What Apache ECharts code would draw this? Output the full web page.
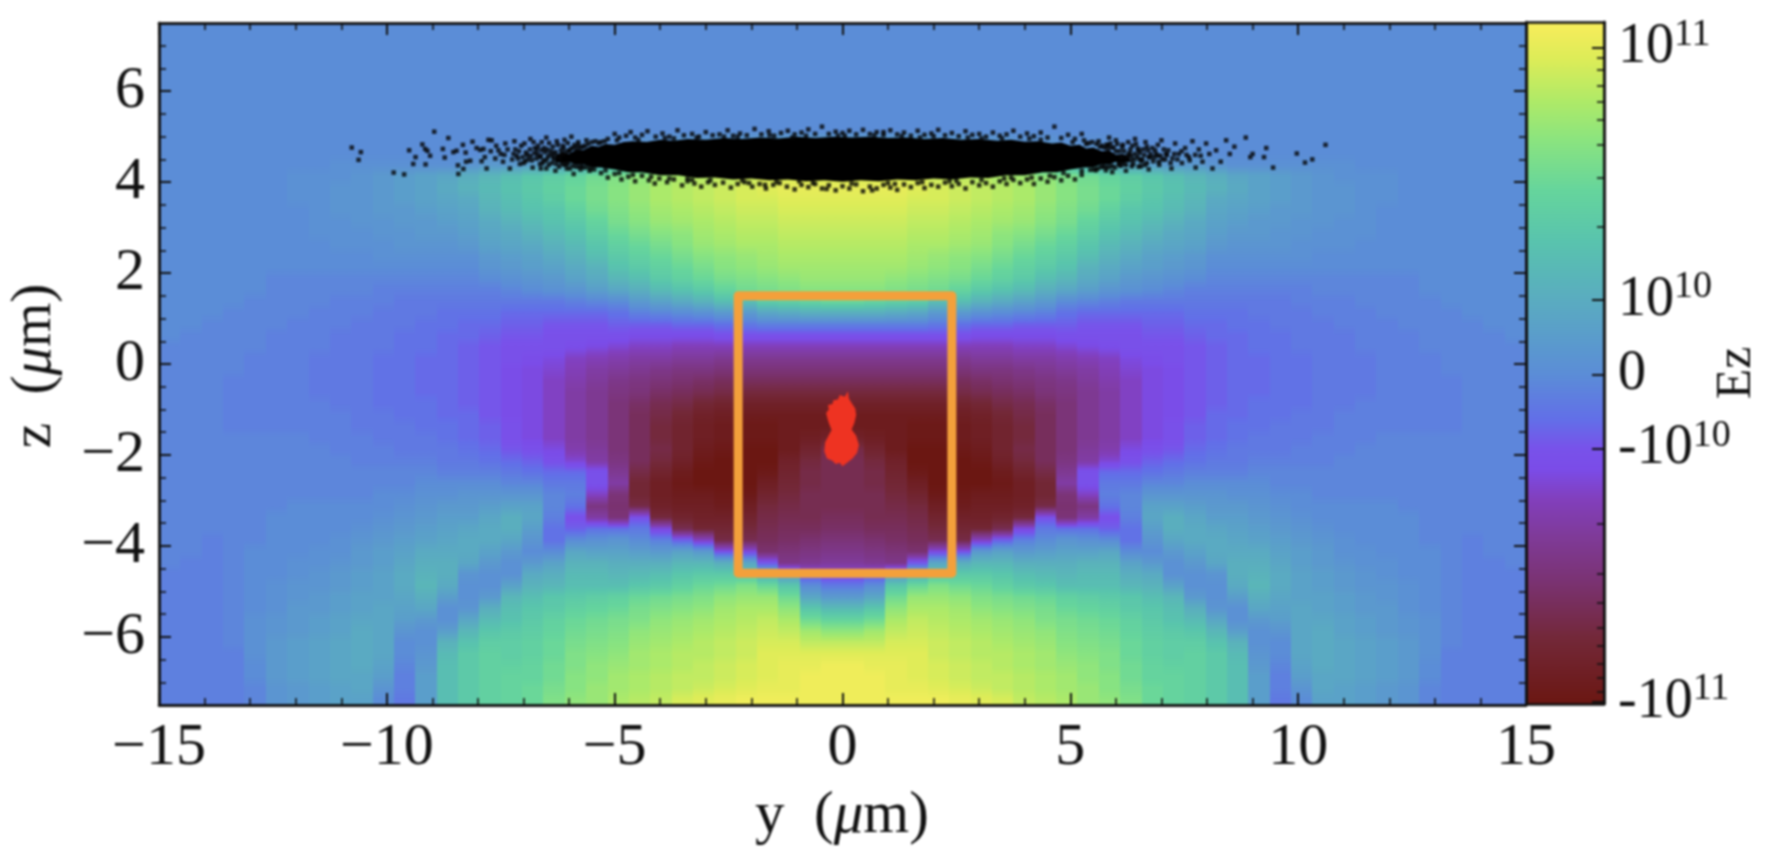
<!DOCTYPE html>
<html><head><meta charset="utf-8">
<style>html,body{margin:0;padding:0;background:#fff}#chart{width:1792px;height:850px;filter:blur(0.8px)}</style>
<script src="https://cdn.jsdelivr.net/npm/echarts@6/dist/echarts.min.js"></script>
</head><body><div id="chart"></div>
<script>
// Field levels: one array per column, |y| growing from the centre. Rows run z = 7.375 down to -7.375 in 0.25 steps.
// A level is the height on the colour bar (10 px units): 0 = 0, ±7.4 = ±10^10, ±32.8 = ±10^11.
const col00=[0,0,0,0,0,0,0,0,0,0,5,14,24,31,33,32,31,30,29,28,27,26,25,23,19,8,-2,-8,-13,-17,-20,-23,-26,-29,-31,-31,-29,-25,-24,-24,-24,-24,-24,-23,-22,-20,-18,-16,-10,-3,3,11,18,24,29,32,34,34,34,34];
const col01=[0,0,0,0,0,0,0,0,0,0,5,14,24,31,33,32,31,30,29,28,27,26,25,23,18,8,-2,-8,-13,-17,-20,-23,-26,-29,-31,-31,-30,-28,-26,-25,-25,-24,-24,-24,-23,-21,-19,-17,-8,0,6,14,20,26,29,32,33,34,34,34];
const col02=[0,0,0,0,0,0,0,0,0,0,5,13,23,31,33,32,31,30,29,28,27,26,24,22,17,7,-2,-8,-13,-17,-20,-23,-26,-29,-31,-31,-31,-31,-29,-28,-27,-26,-25,-24,-23,-22,-20,-18,2,14,20,24,27,29,31,32,33,33,33,34];
const col03=[0,0,0,0,0,0,0,0,0,0,5,12,22,31,32,31,30,29,28,27,26,25,23,21,16,6,-2,-8,-13,-17,-20,-23,-26,-29,-31,-32,-32,-33,-33,-32,-30,-28,-26,-25,-24,-23,-21,-7,8,19,25,27,29,30,31,32,32,32,33,34];
const col04=[0,0,0,0,0,0,0,0,0,0,4,10,20,30,31,31,30,29,28,27,25,24,22,20,12,3,-3,-8,-13,-17,-20,-23,-26,-29,-31,-32,-32,-33,-33,-33,-33,-32,-30,-28,-26,-24,-10,6,14,22,25,27,28,29,30,30,31,31,32,34];
const col05=[0,0,0,0,0,0,0,0,0,0,4,10,20,29,30,30,29,28,27,26,24,23,21,18,12,3,-4,-8,-13,-17,-20,-23,-25,-28,-30,-31,-31,-32,-33,-33,-33,-32,-31,-29,-27,-25,-8,8,15,20,24,26,27,28,29,29,30,30,31,33];
const col06=[0,0,0,0,0,0,0,0,0,0,3,8,18,28,29,29,28,27,26,25,23,21,19,15,9,1,-5,-9,-13,-16,-19,-22,-24,-27,-29,-30,-30,-31,-32,-33,-33,-31,-30,-29,-27,-12,3,10,15,19,22,24,26,27,28,28,29,29,30,32];
const col07=[0,0,0,0,0,0,0,0,0,0,3,8,16,27,28,28,27,26,24,23,21,19,17,13,7,0,-5,-9,-13,-16,-19,-21,-23,-25,-27,-28,-28,-28,-29,-31,-32,-31,-30,-28,-24,-6,5,10,14,17,21,23,25,26,27,28,28,29,29,31];
const col08=[0,0,0,0,0,0,0,0,0,0,2,6,14,26,27,27,26,25,23,21,19,17,15,11,5,-1,-6,-9,-12,-15,-18,-20,-22,-24,-25,-26,-26,-25,-26,-28,-30,-30,-29,-26,-10,-2,3,8,12,15,20,22,24,25,26,27,27,28,28,29];
const col09=[0,0,0,0,0,0,0,0,0,0,2,5,12,24,25,25,24,23,21,19,17,15,12,8,3,-2,-6,-9,-12,-15,-17,-19,-20,-22,-23,-23,-23,-23,-23,-25,-27,-27,-25,-8,-3,0,4,8,11,14,19,21,22,24,25,26,26,27,27,28];
const col10=[0,0,0,0,0,0,0,0,0,0,1,4,10,22,23,23,22,21,19,17,15,13,10,6,0,-4,-6,-8,-11,-14,-16,-18,-19,-20,-20,-20,-20,-20,-19,-17,-15,-20,-21,-20,-4,2,5,8,10,12,17,19,21,22,23,24,25,26,26,27];
const col11=[0,0,0,0,0,0,0,0,0,0,1,3,8,20,21,21,20,18,16,14,12,9,7,4,-1,-5,-7,-8,-10,-13,-15,-16,-17,-17,-17,-17,-17,-16,-15,-8,-8,-12,-19,-15,-4,1,5,9,11,12,16,18,20,21,22,23,24,24,25,25];
const col12=[0,0,0,0,0,0,0,0,0,0,1,2,6,18,19,19,17,15,13,11,9,7,5,2,-2,-5,-7,-8,-9,-12,-13,-14,-15,-15,-15,-15,-15,-14,-11,-5,-3,-2,-4,-8,-6,0,6,9,11,12,15,17,19,20,21,22,22,23,23,24];
const col13=[0,0,0,0,0,0,0,0,0,0,0,2,5,16,17,16,14,13,11,9,7,5,3,1,-3,-5,-7,-8,-8,-10,-11,-12,-12,-12,-12,-12,-12,-10,-8,-5,-3,-1,-1,-2,-4,-4,0,5,8,10,14,15,17,18,19,19,20,20,21,22];
const col14=[0,0,0,0,0,0,0,0,0,0,0,1,4,14,15,14,13,11,9,7,5,4,2,0,-3,-5,-6,-7,-8,-9,-10,-10,-10,-10,-10,-10,-10,-8,-6,-4,-1,2,5,6,4,2,0,3,7,9,12,14,15,16,17,17,18,18,19,19];
const col15=[0,0,0,0,0,0,0,0,0,0,0,1,3,12,13,12,11,9,7,6,4,3,1,-1,-3,-5,-6,-7,-8,-8,-9,-9,-9,-9,-9,-8,-8,-7,-5,-3,-1,2,5,8,8,6,3,1,1,5,10,12,13,15,16,16,17,18,18,18];
const col16=[0,0,0,0,0,0,0,0,0,0,0,1,3,10,11,10,9,7,6,5,3,2,0,-2,-3,-4,-5,-6,-7,-7,-7,-7,-7,-7,-7,-6,-6,-5,-4,-2,0,2,4,6,7,7,5,3,1,1,3,8,11,14,16,17,17,17,17,17];
const col17=[0,0,0,0,0,0,0,0,0,0,0,0,2,8,9,7,6,5,4,3,1,0,-1,-2,-3,-4,-5,-5,-6,-6,-6,-6,-6,-6,-5,-5,-5,-4,-3,-2,0,2,3,4,6,7,7,6,2,1,1,2,6,10,13,15,15,15,15,15];
const col18=[0,0,0,0,0,0,0,0,0,0,0,0,1,6,7,6,5,4,3,2,1,0,-1,-2,-3,-4,-4,-5,-5,-5,-5,-5,-5,-5,-5,-4,-4,-3,-3,-2,0,1,3,4,5,6,7,8,8,7,4,1,1,4,9,11,12,12,12,12];
const col19=[0,0,0,0,0,0,0,0,0,0,0,0,1,5,5,5,4,3,3,2,1,0,-1,-2,-3,-3,-4,-4,-4,-5,-5,-5,-5,-4,-4,-4,-3,-3,-2,-1,0,1,2,3,4,5,7,8,9,10,8,6,3,1,1,2,3,4,4,4];
const col20=[0,0,0,0,0,0,0,0,0,0,0,0,1,4,4,4,3,3,2,2,1,0,-1,-2,-3,-3,-3,-4,-4,-4,-4,-4,-4,-4,-4,-3,-3,-3,-2,-1,-1,0,1,2,3,4,5,6,7,7,6,5,4,2,0,0,-1,-2,-2,-3];
const col21=[0,0,0,0,0,0,0,0,0,0,0,0,1,3,3,3,3,2,2,1,1,0,-1,-2,-2,-3,-3,-3,-3,-4,-4,-4,-4,-4,-3,-3,-3,-2,-2,-1,-1,0,0,1,2,3,4,4,5,5,5,6,6,6,6,6,5,4,2,0];
const col22=[0,0,0,0,0,0,0,0,0,0,0,0,1,2,2,2,2,2,1,1,0,0,-1,-1,-2,-2,-3,-3,-3,-3,-3,-3,-3,-3,-3,-3,-2,-2,-2,-1,-1,-1,0,0,1,2,3,3,4,4,5,5,6,7,7,7,7,6,6,5];
const col23=[0,0,0,0,0,0,0,0,0,0,0,0,1,1,2,2,2,1,1,1,0,0,-1,-1,-2,-2,-2,-3,-3,-3,-3,-3,-3,-3,-2,-2,-2,-2,-1,-1,-1,-1,0,0,0,1,1,2,3,3,4,4,5,5,6,6,6,6,5,5];
const col24=[0,0,0,0,0,0,0,0,0,0,0,0,0,1,1,1,1,1,1,0,0,0,-1,-1,-1,-2,-2,-2,-2,-3,-3,-3,-3,-2,-2,-2,-2,-1,-1,-1,-1,-1,0,0,0,0,1,1,2,2,3,3,4,4,5,5,5,5,4,4];
const col25=[0,0,0,0,0,0,0,0,0,0,0,0,0,1,1,1,0,0,0,0,0,0,-1,-1,-1,-1,-2,-2,-2,-2,-2,-2,-2,-2,-2,-2,-1,-1,-1,-1,-1,-1,0,0,0,0,0,1,1,2,2,3,3,3,4,4,4,4,3,3];
const col26=[0,0,0,0,0,0,0,0,0,0,0,0,0,0,0,0,0,0,0,0,0,0,-1,-1,-1,-1,-1,-2,-2,-2,-2,-2,-2,-2,-2,-2,-1,-1,-1,-1,-1,-1,-1,0,0,0,0,0,0,1,1,1,2,2,3,3,3,3,2,2];
const col27=[0,0,0,0,0,0,0,0,0,0,0,0,0,0,0,0,0,0,0,0,0,0,0,0,-1,-1,-1,-1,-1,-2,-2,-2,-2,-2,-2,-2,-1,-1,-1,-1,-1,-1,-1,-1,-1,-1,0,0,0,0,0,0,1,1,1,1,0,0,-1,-1];
const col28=[0,0,0,0,0,0,0,0,0,0,0,0,0,0,0,0,0,0,0,0,0,0,0,0,0,-1,-1,-1,-1,-1,-1,-2,-2,-2,-2,-2,-1,-1,-1,-1,-1,-1,-1,-1,-1,-1,-1,-1,-1,-1,-1,-1,-1,-1,-1,-2,-2,-2,-2,-2];
const col29=[0,0,0,0,0,0,0,0,0,0,0,0,0,0,0,0,0,0,0,0,0,0,0,0,0,0,-1,-1,-1,-1,-1,-1,-1,-1,-1,-1,-1,-1,-1,-1,-1,-1,-1,-1,-1,-2,-2,-2,-2,-2,-2,-2,-2,-2,-2,-2,-2,-2,-2,-2];
const col30=[0,0,0,0,0,0,0,0,0,0,0,0,0,0,0,0,0,0,0,0,0,0,0,0,0,0,0,-1,-1,-1,-1,-1,-1,-1,-1,-1,-1,-1,-1,-1,-1,-1,-1,-1,-1,-1,-1,-2,-2,-2,-2,-2,-2,-2,-2,-2,-2,-2,-2,-2];
const col31=[0,0,0,0,0,0,0,0,0,0,0,0,0,0,0,0,0,0,0,0,0,0,0,0,0,0,0,0,-1,-1,-1,-1,-1,-1,-1,-1,-1,-1,-1,-1,-1,-1,-1,-1,-1,-1,-1,-1,-2,-2,-2,-2,-2,-2,-2,-2,-2,-2,-2,-2];

// Black electron sheet: dense core outline and the individually visible particles.
const sheetTop=[[-6.3,4.58],[-6.15,4.66],[-6,4.62],[-5.85,4.72],[-5.7,4.7],[-5.5,4.8],[-5.35,4.78],[-5.2,4.84],[-5,4.82],[-4.8,4.88],[-4.6,4.9],[-4.3,4.88],[-4,4.93],[-3.7,4.91],[-3.4,4.95],[-3,4.93],[-2.6,4.97],[-2.2,4.95],[-1.8,4.98],[-1.4,4.96],[-1,5],[-0.6,4.97],[-0.2,5],[0.2,4.98],[0.6,5],[1,4.97],[1.4,4.98],[1.8,4.95],[2.2,4.97],[2.6,4.93],[3,4.95],[3.4,4.91],[3.7,4.93],[4,4.89],[4.3,4.9],[4.6,4.85],[4.8,4.87],[5,4.8],[5.2,4.82],[5.35,4.74],[5.5,4.76],[5.7,4.68],[5.85,4.7],[6,4.6],[6.15,4.62],[6.3,4.55]];
const sheetBottom=[[6.3,4.45],[6.15,4.42],[6,4.45],[5.85,4.38],[5.7,4.4],[5.5,4.33],[5.3,4.32],[5,4.28],[4.7,4.22],[4.4,4.22],[4,4.15],[3.6,4.15],[3.2,4.09],[2.8,4.1],[2.4,4.06],[2,4.08],[1.6,4.04],[1.2,4.06],[0.8,4.02],[0.4,4.04],[0,4.01],[-0.4,4.04],[-0.8,4.02],[-1.2,4.06],[-1.6,4.04],[-2,4.08],[-2.4,4.06],[-2.8,4.1],[-3.2,4.09],[-3.6,4.15],[-4,4.15],[-4.4,4.22],[-4.7,4.22],[-5,4.28],[-5.3,4.32],[-5.5,4.33],[-5.7,4.4],[-5.85,4.38],[-6,4.45],[-6.15,4.42],[-6.3,4.45]];
const tailLeft=[[-10.77,4.76],[-10.57,4.66],[-10.62,4.49],[-9.85,4.21],[-9.62,4.17],[-9.51,4.7],[-9.42,4.4],[-9.37,4.55],[-9.22,4.83],[-9.16,4.73],[-9.11,4.69],[-9.15,4.39],[-9.05,4.58],[-8.96,5.11],[-8.77,4.73],[-8.73,4.54],[-8.65,4.97],[-8.54,4.66],[-8.47,4.69],[-8.44,4.37],[-8.43,4.18],[-8.33,4.82],[-8.32,4.29],[-8.27,4.65],[-8.26,4.45],[-8.17,4.47],[-8.12,4.89],[-8.03,4.75],[-7.95,4.71],[-7.92,4.46],[-7.88,4.73],[-7.81,4.3],[-7.77,4.93],[-7.7,4.92],[-7.6,4.8],[-7.5,4.62],[-7.45,4.45],[-7.35,4.72],[-7.3,4.3],[-7.2,4.9],[-7.15,4.58],[-7.05,4.8],[-7,4.42],[-6.95,4.65],[-6.85,4.95],[-6.8,4.32],[-6.75,4.75],[-6.65,4.55],[-6.6,4.88],[-6.5,4.98],[-6.45,4.38],[-6.4,4.68],[-6.3,4.25],[-6.25,4.82],[-6.2,4.52],[-6.1,4.93],[-6.05,4.3],[-6,4.7],[-5.95,5],[-5.9,4.18],[-5.8,4.88],[-5.75,4.28],[-7.55,4.7],[-7.25,4.5],[-7.1,4.68],[-6.9,4.5],[-6.7,4.62],[-6.55,4.75],[-6.35,4.55],[-6.15,4.62],[-7.4,4.85],[-6.78,4.88],[-6.58,4.42],[-6.28,4.4],[-6.62,4.3],[-6.98,4.85],[-6.12,4.75],[-6.02,4.42]];
const tailRight=[[10.6,4.82],[9.97,4.63],[10.15,4.43],[10.31,4.5],[9.45,4.32],[9.3,4.75],[9.25,4.55],[9,4.62],[8.85,4.98],[8.95,4.55],[8.6,4.78],[8.5,4.62],[8.42,4.92],[8.3,4.45],[8.2,4.7],[8.12,4.3],[8.05,4.62],[7.98,4.85],[7.9,4.45],[7.82,4.72],[7.75,4.32],[7.68,4.9],[7.6,4.55],[7.52,4.75],[7.45,4.42],[7.38,4.62],[7.3,4.85],[7.22,4.3],[7.15,4.7],[7.08,4.5],[7,4.92],[6.95,4.38],[6.88,4.62],[6.8,4.75],[6.72,4.28],[6.65,4.88],[6.58,4.5],[6.5,4.7],[6.42,4.95],[6.35,4.35],[6.28,4.6],[6.22,4.25],[6.15,4.82],[6.08,4.4],[6,4.92],[5.92,4.22],[5.85,4.98],[5.78,4.26],[7.55,4.6],[7.35,4.5],[7.05,4.72],[6.75,4.55],[6.55,4.35],[6.32,4.72],[6.12,4.55],[6.92,4.82],[7.28,4.62],[6.98,4.58],[6.68,4.42],[6.4,4.5],[5.82,4.82]];
const denseLeft=[[-5.35,4.86],[-5.42,4.9],[-5.45,4.28],[-5.5,4.88],[-5.52,4.3],[-5.55,4.25],[-5.58,4.84],[-5.6,4.33],[-5.62,4.92],[-5.65,4.8],[-5.68,4.32],[-5.7,4.78],[-5.72,4.36],[-5.75,4.76],[-5.78,4.34],[-5.8,4.82],[-5.82,4.74],[-5.85,4.34],[-5.88,4.82],[-5.9,4.76],[-5.92,4.36],[-5.95,4.74],[-5.98,4.3],[-6,4.68],[-6.03,4.86],[-6.06,4.4],[-6.08,4.66],[-6.1,4.38],[-6.14,4.8],[-6.16,4.4],[-6.18,4.7],[-6.22,4.34],[-6.24,4.58],[-6.27,4.9],[-6.3,4.66],[-6.33,4.5],[-6.36,4.78],[-6.38,4.42],[-6.42,4.6],[-6.44,4.86],[-6.47,4.55],[-6.5,4.3],[-6.52,4.66],[-6.56,4.48],[-6.6,4.7],[-6.64,4.4],[-6.68,4.8],[-6.72,4.52],[-6.76,4.64],[-6.82,4.48],[-6.86,4.72],[-6.92,4.6],[-7.02,4.55],[-7.08,4.4],[-7.18,4.72],[-6.34,4.62],[-6.48,4.72],[-6.5,4.48],[-6.62,4.58],[-6.7,4.72],[-6.84,4.58],[-6.96,4.46],[-7.12,4.52],[-7.22,4.62],[-7.42,4.6],[-7.62,4.52],[-7.72,4.68],[-7.85,4.55]];
const denseRight=[[5.35,4.84],[5.4,4.86],[5.44,4.27],[5.48,4.88],[5.52,4.28],[5.56,4.26],[5.58,4.84],[5.6,4.3],[5.62,4.9],[5.65,4.78],[5.68,4.33],[5.7,4.8],[5.72,4.35],[5.75,4.76],[5.78,4.33],[5.8,4.82],[5.82,4.74],[5.85,4.33],[5.88,4.85],[5.9,4.76],[5.92,4.35],[5.95,4.76],[5.98,4.32],[6,4.68],[6.03,4.84],[6.06,4.4],[6.08,4.68],[6.1,4.36],[6.14,4.78],[6.16,4.4],[6.18,4.68],[6.22,4.38],[6.24,4.56],[6.27,4.88],[6.3,4.64],[6.33,4.48],[6.36,4.8],[6.38,4.4],[6.42,4.62],[6.44,4.84],[6.47,4.55],[6.5,4.34],[6.52,4.64],[6.56,4.46],[6.6,4.72],[6.64,4.38],[6.68,4.78],[6.72,4.55],[6.76,4.62],[6.82,4.46],[6.86,4.7],[6.92,4.58],[7.02,4.5],[7.12,4.6],[7.2,4.42],[6.34,4.58],[6.48,4.74],[6.52,4.5],[6.62,4.6],[6.7,4.7],[6.84,4.55],[6.94,4.45],[7.1,4.62],[7.24,4.52],[7.44,4.68],[7.62,4.48],[7.74,4.6],[7.86,4.58]];
const fringeTop=[[-5.3,4.88],[-5.15,4.95],[-5,5.06],[-4.9,4.98],[-4.75,5.02],[-4.65,5.1],[-4.55,4.98],[-4.4,5.04],[-4.28,5.12],[-4.1,5],[-3.95,5.07],[-3.8,5],[-3.62,5.14],[-3.48,5.03],[-3.3,5.06],[-3.15,5],[-3,5.1],[-2.85,5.03],[-2.7,5.05],[-2.52,5.14],[-2.4,5.02],[-2.25,5.07],[-2.1,5.03],[-1.93,5.17],[-1.78,5.05],[-1.62,5.12],[-1.5,5.02],[-1.35,5.08],[-1.2,5.13],[-1.05,5.05],[-0.9,5.09],[-0.75,5.16],[-0.6,5.06],[-0.45,5.22],[-0.3,5.06],[-0.15,5.11],[0,5.08],[0.15,5.13],[0.3,5.05],[0.45,5.15],[0.6,5.06],[0.75,5.1],[0.9,5.04],[1.05,5.14],[1.2,5.05],[1.35,5.09],[1.5,5.02],[1.65,5.13],[1.8,5.04],[1.95,5.07],[2.1,5.15],[2.25,5.03],[2.4,5.08],[2.55,5.01],[2.7,5.12],[2.85,5.04],[3,5.06],[3.15,5],[3.3,5.09],[3.45,5.02],[3.6,5.05],[3.75,5.13],[3.9,5],[4.05,5.07],[4.2,5.01],[4.35,5.09],[4.5,4.98],[4.65,5.22],[4.8,4.97],[4.95,5.04],[5.1,4.95],[5.25,5.06],[-1.1,4.98],[-2.6,5],[-3.7,4.96],[1.7,4.98],[3.05,4.96],[4.1,4.96],[-0.1,5.02],[0.9,5.1],[-4.95,4.92],[-5.22,4.9],[-4.48,4.93],[-3.9,4.97],[-3.2,4.98],[-2.3,5],[-1.6,5.03],[-0.8,5.02],[0.05,5.02],[0.7,5.03],[1.3,5.01],[2,5.01],[2.75,4.98],[3.5,4.96],[4.35,4.93],[5.05,4.88],[5.3,4.92]];
const fringeBottom=[[-5.3,4.2],[-5.15,4.1],[-5,4.18],[-4.85,4.06],[-4.7,4.12],[-4.55,4.02],[-4.4,4.14],[-4.25,4.04],[-4.12,3.97],[-4.02,4.08],[-3.85,4],[-3.7,4.06],[-3.52,3.93],[-3.4,4.02],[-3.25,3.97],[-3.1,3.9],[-2.95,4],[-2.8,3.94],[-2.62,3.99],[-2.45,3.88],[-2.3,3.96],[-2.15,4],[-1.98,3.9],[-1.82,3.96],[-1.68,3.86],[-1.52,3.94],[-1.38,3.98],[-1.22,3.9],[-1.05,3.84],[-0.9,3.94],[-0.75,3.89],[-0.6,3.96],[-0.45,3.86],[-0.3,3.93],[-0.15,3.82],[0,3.91],[0.15,3.86],[0.3,3.95],[0.45,3.8],[0.6,3.9],[0.75,3.86],[0.9,3.94],[1.05,3.88],[1.2,3.83],[1.35,3.95],[1.5,3.89],[1.65,3.98],[1.8,3.87],[1.95,3.94],[2.1,3.9],[2.25,3.99],[2.4,3.91],[2.55,3.96],[2.7,3.86],[2.85,4],[3,3.93],[3.15,3.98],[3.3,3.9],[3.45,4.02],[3.6,3.96],[3.75,4.05],[3.9,3.98],[4.05,4.06],[4.2,3.96],[4.35,4.08],[4.5,4.01],[4.65,4.11],[4.8,4.04],[4.95,4.14],[5.1,4.06],[5.25,4.16],[-0.95,4.02],[-2.05,3.98],[-3.3,4.05],[1.15,3.96],[2.5,4.03],[3.7,4.1],[-0.35,3.85],[0.65,3.82],[-1.7,3.94],[-5.2,4.26],[-4.9,4.2],[-4.6,4.16],[-4.2,4.12],[-3.8,4.08],[-3.4,4.08],[-2.9,4.04],[-2.2,4.04],[-1.45,4],[-0.65,3.98],[0.2,3.97],[1,3.98],[1.75,4],[2.35,4.02],[3.05,4.05],[3.55,4.08],[4.15,4.1],[4.55,4.14],[4.85,4.2],[5.25,4.25]];
// Red ion cluster outline.
const ionBlob=[[0.12,-0.6],[0.05,-0.72],[-0.06,-0.68],[-0.1,-0.78],[-0.2,-0.8],[-0.22,-0.88],[-0.32,-0.9],[-0.3,-1],[-0.36,-1.08],[-0.33,-1.2],[-0.3,-1.3],[-0.24,-1.45],[-0.3,-1.56],[-0.38,-1.72],[-0.4,-1.92],[-0.34,-2.08],[-0.22,-2.13],[-0.15,-2.2],[-0.06,-2.17],[0,-2.25],[0.1,-2.17],[0.22,-2.08],[0.32,-1.95],[0.36,-1.78],[0.3,-1.58],[0.2,-1.44],[0.26,-1.3],[0.3,-1.12],[0.28,-0.98],[0.2,-0.86],[0.14,-0.76]];
// Orange frame corners [y, z].
const boxCorners=[[-2.29,1.5],[2.4,-4.6]];
// Tick values
const xMajor=[-15,-10,-5,0,5,10,15];
const xMinor=[-14,-13,-12,-11,-9,-8,-7,-6,-4,-3,-2,-1,1,2,3,4,6,7,8,9,11,12,13,14];
const zMajor=[-6,-4,-2,0,2,4,6];
const zMinor=[-7,-6.5,-5.5,-5,-4.5,-3.5,-3,-2.5,-1.5,-1,-0.5,0.5,1,1.5,2.5,3,3.5,4.5,5,5.5,6.5,7];
const barMajor=[32.74,7.47,0,-7.43,-32.8];
const barMajorLabels=['{b|10}{s|11}','{b|10}{s|10}','{b|0}','{b|-10}{s|10}','{b|-10}{s|11}'];
const barMinor=[31.7,30.5,28.9,27.3,25.5,23,19.7,14.8,-14.9,-20,-22.9,-25.4,-27.2,-29,-30.4,-31.8];
const colourStops=[[35.3,'#f9ed5b'],[31.5,'#dcec58'],[27.3,'#aeea68'],[23.5,'#8be47f'],[18.5,'#66d59c'],[13.5,'#59c4ad'],[7.5,'#5aacc0'],[0,'#5b8dd7'],[-4.5,'#626fe8'],[-7.4,'#7852ea'],[-9.5,'#7b4ce8'],[-12.5,'#823fbc'],[-16.5,'#7f3a96'],[-21,'#7a3270'],[-26.5,'#732838'],[-33,'#6b1712']];

const columns=[col00,col01,col02,col03,col04,col05,col06,col07,col08,col09,col10,col11,col12,col13,col14,col15,col16,col17,col18,col19,col20,col21,col22,col23,col24,col25,col26,col27,col28,col29,col30,col31];
const nC=columns.length, nR=col00.length;
const BAR_MIN=-33,BAR_MAX=35.3,Y_SPAN=15,Z_SPAN=7.5;
const hex=s=>[1,3,5].map(i=>parseInt(s.substr(i,2),16));
function colourAt(L){
  L=Math.max(BAR_MIN,Math.min(BAR_MAX,L));
  for(let i=0;i<colourStops.length-1;i++){
    const [a,ca]=colourStops[i],[b,cb]=colourStops[i+1];
    if(L<=a&&L>=b){const t=(a-L)/(a-b),p=hex(ca),q=hex(cb);
      return 'rgb('+p.map((v,k)=>Math.round(v+(q[k]-v)*t)).join(',')+')';}
  }
  return colourStops[colourStops.length-1][1];
}
// Each column is shaded smoothly from row to row, as the reference image does.
const columnFill=columns.map(col=>{
  const stops=[];
  for(let r=0;r<nR;r++){
    const next=r<nR-1?col[r+1]:col[r];
    for(let s=0;s<4;s++)stops.push({offset:(r+0.5+s/4)/nR,color:colourAt(col[r]+(next-col[r])*s/4)});
  }
  stops.unshift({offset:0,color:colourAt(col[0])});
  return new echarts.graphic.LinearGradient(0,0,0,1,stops.filter(o=>o.offset<=1));
});
const barStops=[];
for(const [L,c] of colourStops)barStops.push({offset:(BAR_MAX-L)/(BAR_MAX-BAR_MIN),color:c});
const barFill=new echarts.graphic.LinearGradient(0,0,0,1,barStops);
const cells=[];
const cw=2*Y_SPAN/(2*nC);
for(let c=0;c<nC;c++){
  cells.push([-(c+1)*cw,-c*cw,c]);
  cells.push([c*cw,(c+1)*cw,c]);
}

const FONT='"Liberation Serif","Times New Roman",serif';
const INK='#111';
const GRID={left:159,top:23,width:1367,height:682};
function valueAxis(pos,ticks,len,gridIndex,min,max,labels,w){
  const a={type:'value',gridIndex,position:pos,min,max,z:6,
    splitLine:{show:false},
    axisLine:{show:true,onZero:false,lineStyle:{color:INK,width:2.5}},
    axisTick:{show:len>0,inside:true,length:len,customValues:ticks,lineStyle:{color:INK,width:w||2}},
    axisLabel:{show:false}};
  if(labels)a.axisLabel=Object.assign({show:true,customValues:ticks,fontFamily:FONT,fontSize:60,color:'#111'},labels);
  return a;
}
const minus=v=>String(v).replace('-','\u2212');
const option={
  animation:false,backgroundColor:'#fff',
  grid:[Object.assign({},GRID),{left:1526,top:22,width:78,height:682}],
  xAxis:[
    valueAxis('bottom',xMajor,12,0,-Y_SPAN,Y_SPAN,{margin:13,formatter:minus}),
    valueAxis('bottom',xMinor,7,0,-Y_SPAN,Y_SPAN,null,1.6),
    valueAxis('top',xMajor,12,0,-Y_SPAN,Y_SPAN),
    valueAxis('top',xMinor,7,0,-Y_SPAN,Y_SPAN,null,1.6),
    valueAxis('bottom',[],0,1,0,1),
    valueAxis('top',[],0,1,0,1)
  ],
  yAxis:[
    valueAxis('left',zMajor,12,0,-Z_SPAN,Z_SPAN,{margin:14,formatter:minus}),
    valueAxis('left',zMinor,7,0,-Z_SPAN,Z_SPAN,null,1.6),
    valueAxis('right',zMajor,12,0,-Z_SPAN,Z_SPAN),
    valueAxis('right',zMinor,7,0,-Z_SPAN,Z_SPAN,null,1.6),
    valueAxis('right',barMajor,12,1,BAR_MIN,BAR_MAX,{margin:14,
      formatter:v=>barMajorLabels[barMajor.indexOf(v)],
      rich:{b:{fontFamily:FONT,fontSize:56,color:'#111',lineHeight:64},
            s:{fontFamily:FONT,fontSize:38,color:'#111',lineHeight:32,verticalAlign:'top'}}}),
    valueAxis('right',barMinor,7,1,BAR_MIN,BAR_MAX,null,1.6),
    valueAxis('left',[],0,1,BAR_MIN,BAR_MAX)
  ],
  series:[
    {type:'custom',name:'Ez',xAxisIndex:0,yAxisIndex:0,z:1,silent:true,data:cells,encode:{x:[0,1]},
      renderItem:(p,api)=>{
        const a=api.coord([api.value(0),Z_SPAN]),b=api.coord([api.value(1),-Z_SPAN]);
        const x0=Math.round(a[0]),x1=Math.round(b[0]);
        return {type:'rect',shape:{x:x0,y:a[1],width:x1-x0,height:b[1]-a[1]},style:{fill:columnFill[api.value(2)]}};
      }},
    {type:'custom',name:'colour bar',xAxisIndex:4,yAxisIndex:4,z:1,silent:true,data:[[0.5,0]],
      renderItem:(p,api)=>{
        const a=api.coord([0,BAR_MAX]),b=api.coord([1,BAR_MIN]);
        return {type:'rect',shape:{x:a[0],y:a[1],width:b[0]-a[0],height:b[1]-a[1]},style:{fill:barFill}};
      }},
    {type:'custom',xAxisIndex:0,yAxisIndex:0,z:3,clip:false,silent:true,data:[[0,0]],
      renderItem:(p,api)=>({type:'polygon',shape:{points:sheetTop.concat(sheetBottom).map(q=>api.coord(q))},style:{fill:'#000'}})},
    {type:'scatter',xAxisIndex:0,yAxisIndex:0,z:3,silent:true,symbol:'rect',symbolSize:4.5,itemStyle:{color:'#050505'},
      data:[].concat(tailLeft,tailRight,denseLeft,denseRight,fringeTop,fringeBottom)},
    {type:'custom',xAxisIndex:0,yAxisIndex:0,z:4,clip:false,silent:true,data:[[0,0]],
      renderItem:(p,api)=>({type:'polygon',shape:{points:ionBlob.map(q=>api.coord(q))},style:{fill:'#ee3322'}})},
    {type:'custom',xAxisIndex:0,yAxisIndex:0,z:4,clip:false,silent:true,data:[[0,0]],
      renderItem:(p,api)=>{const a=api.coord(boxCorners[0]),b=api.coord(boxCorners[1]);
        return {type:'rect',shape:{x:a[0],y:a[1],width:b[0]-a[0],height:b[1]-a[1]},
          style:{fill:'none',stroke:'#f3a03b',lineWidth:9,lineJoin:'round'}};}}
  ],
  graphic:[
    {type:'text',x:842,y:816,z:10,style:{text:'y  ({i|\u03bc}m)',fontFamily:FONT,fontSize:59,fill:'#111',align:'center',verticalAlign:'middle',
      rich:{i:{fontFamily:FONT,fontStyle:'italic',fontSize:59,fill:'#111'}}}},
    {type:'text',x:35,y:366,rotation:Math.PI/2,z:10,style:{text:'z  ({i|\u03bc}m)',fontFamily:FONT,fontSize:57,fill:'#111',align:'center',verticalAlign:'middle',
      rich:{i:{fontFamily:FONT,fontStyle:'italic',fontSize:57,fill:'#111'}}}},
    {type:'text',x:1737,y:373,rotation:Math.PI/2,z:10,style:{text:'Ez',fontFamily:FONT,fontSize:50,fill:'#111',align:'center',verticalAlign:'middle'}}
  ]
};
echarts.init(document.getElementById('chart'),null,{renderer:'canvas'}).setOption(option);
</script></body></html>
